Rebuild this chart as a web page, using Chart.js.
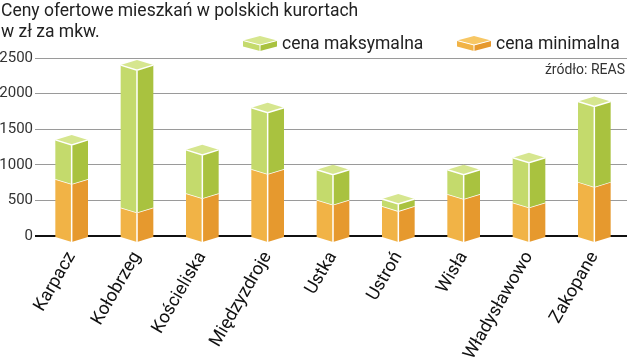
<!DOCTYPE html>
<html>
<head>
<meta charset="utf-8">
<script src="https://cdn.jsdelivr.net/npm/chart.js@4"></script>
<style>
body { margin: 0; background: #fff; }
#wrap { position: relative; width: 627px; height: 361px; font-family: Roboto, sans-serif; color: #222; }
#title { position: absolute; left: 1px; top: 0px; font-size: 17.5px; line-height: 21px; }
.leg { position: absolute; top: 34px; height: 18px; font-size: 17.5px; display: flex; align-items: center; white-space: nowrap; }
.leg svg { margin-right: 5px; }
#source { position: absolute; right: 2px; top: 61px; font-size: 14px; color: #333; }
canvas { position: absolute; left: 0; top: 0; }
</style>
</head>
<body>
<div id="wrap">
  <canvas id="chart" width="627" height="361"></canvas>
  <div id="title">Ceny ofertowe mieszkań w polskich kurortach<br>w zł za mkw.</div>
  <div class="leg" id="legMax" style="left:243px"></div>
  <div class="leg" id="legMin" style="left:457px"></div>
  <div id="source">źródło: REAS</div>
</div>
<script>
var cities = ["Karpacz", "Kołobrzeg", "Kościeliska", "Międzyzdroje", "Ustka", "Ustroń", "Wisła", "Władysławowo", "Zakopane"];
var minPrice = [800, 400, 600, 940, 510, 420, 590, 470, 760];
var maxPrice = [1350, 2400, 1210, 1800, 930, 520, 930, 1100, 1890];
var yTicks = [0, 500, 1000, 1500, 2000, 2500];
var seriesNames = ["cena minimalna", "cena maksymalna"];

// face colours: [left, right, top]
var orange = ["#F1B346", "#E6992E", "#F7C765"];
var green = ["#C4DA6C", "#A9C23F", "#D6E68F"];

// the green part sits on top of the orange one
var diff = maxPrice.map(function (v, i) { return v - minPrice[i]; });

function legendIcon(c) {
    return '<svg width="34" height="15" viewBox="0 0 34 15">' +
        '<polygon points="0,4.5 17,9 17,15 0,10.5" fill="' + c[0] + '"/>' +
        '<polygon points="17,9 34,4.5 34,10.5 17,15" fill="' + c[1] + '"/>' +
        '<polygon points="0,4.5 17,0 34,4.5 17,9" fill="' + c[2] + '"/>' +
        '<polyline points="0,4.5 17,9 34,4.5" stroke="#fff" stroke-width="1" fill="none"/>' +
        '<line x1="17" y1="9" x2="17" y2="15" stroke="#fff" stroke-width="1"/></svg>';
}
document.getElementById("legMax").innerHTML = legendIcon(green) + "<span>" + seriesNames[1] + "</span>";
document.getElementById("legMin").innerHTML = legendIcon(orange) + "<span>" + seriesNames[0] + "</span>";

function drawBox(ctx, x, w, yTop, yBot, c, withTop) {
    var d = 5;
    var xl = x - w / 2, xr = x + w / 2;
    ctx.fillStyle = c[0];
    ctx.beginPath();
    ctx.moveTo(xl, yTop); ctx.lineTo(x, yTop + d); ctx.lineTo(x, yBot + d); ctx.lineTo(xl, yBot);
    ctx.closePath(); ctx.fill();
    ctx.fillStyle = c[1];
    ctx.beginPath();
    ctx.moveTo(x, yTop + d); ctx.lineTo(xr, yTop); ctx.lineTo(xr, yBot); ctx.lineTo(x, yBot + d);
    ctx.closePath(); ctx.fill();
    if (withTop) {
        ctx.fillStyle = c[2];
        ctx.beginPath();
        ctx.moveTo(xl, yTop); ctx.lineTo(x, yTop - d); ctx.lineTo(xr, yTop); ctx.lineTo(x, yTop + d);
        ctx.closePath(); ctx.fill();
    }
    ctx.strokeStyle = "#fff";
    ctx.lineWidth = 1.5;
    ctx.beginPath();
    ctx.moveTo(xl, yTop); ctx.lineTo(x, yTop + d); ctx.lineTo(xr, yTop);
    ctx.moveTo(x, yTop + d); ctx.lineTo(x, yBot + d);
    ctx.stroke();
}

var boxes3d = {
    id: "boxes3d",
    afterDatasetsDraw: function (chart) {
        var ctx = chart.ctx;
        var low = chart.getDatasetMeta(0).data;
        var high = chart.getDatasetMeta(1).data;
        ctx.save();
        low.forEach(function (el, i) {
            var h = high[i];
            drawBox(ctx, el.x, el.width, el.y, el.base + 2, orange, false);
            drawBox(ctx, h.x, h.width, h.y, h.base, green, true);
        });
        ctx.restore();
    }
};

new Chart(document.getElementById("chart").getContext("2d"), {
    type: "bar",
    data: {
        labels: cities,
        datasets: [
            { label: seriesNames[0], data: minPrice, backgroundColor: "rgba(0,0,0,0)" },
            { label: seriesNames[1], data: diff, backgroundColor: "rgba(0,0,0,0)" }
        ]
    },
    options: {
        responsive: false,
        animation: false,
        layout: { padding: { top: 58, right: 0, left: 0, bottom: 0 } },
        datasets: { bar: { barPercentage: 0.5, categoryPercentage: 1 } },
        plugins: {
            legend: { display: false },
            title: { display: false },
            tooltip: { enabled: false }
        },
        scales: {
            x: {
                stacked: true,
                grid: { display: false },
                border: { display: false },
                ticks: {
                    color: "#111",
                    font: { family: "Roboto, sans-serif", size: 18 },
                    minRotation: 60,
                    maxRotation: 60,
                    padding: 4
                },
                afterFit: function (scale) { scale.height = 125; }
            },
            y: {
                stacked: true,
                min: 0,
                max: 2500,
                afterBuildTicks: function (scale) {
                    scale.ticks = yTicks.map(function (v) { return { value: v }; });
                },
                grid: {
                    color: function (c) { return c.tick && c.tick.value === 0 ? "#111" : "#9a9a9a"; },
                    lineWidth: function (c) { return c.tick && c.tick.value === 0 ? 2 : 1; },
                    tickLength: 4
                },
                border: { display: false },
                ticks: {
                    color: "#333",
                    font: { family: "Roboto, sans-serif", size: 15 },
                    padding: 2,
                    callback: function (v) { return String(v); }
                },
                afterFit: function (scale) { scale.width = 39; }
            }
        }
    },
    plugins: [boxes3d]
});
</script>
</body>
</html>
